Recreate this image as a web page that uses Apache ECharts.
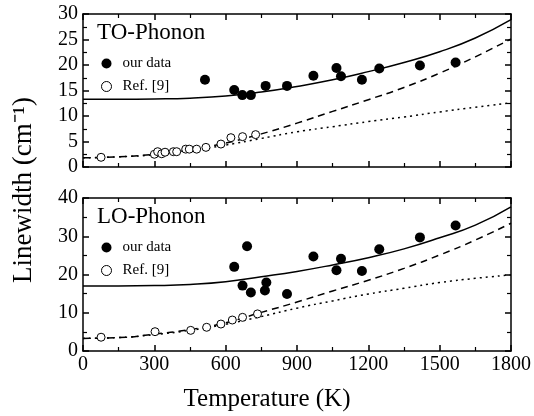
<!DOCTYPE html>
<html>
<head>
<meta charset="utf-8">
<script src="https://cdn.jsdelivr.net/npm/echarts@6/dist/echarts.min.js"></script>
<style>
  html, body { margin: 0; padding: 0; background: #fff; }
  #chart { width: 534px; height: 416px; }
</style>
</head>
<body>
<div id="chart"></div>
<script>
// temperature grid used for the fitted curves (K)
var curveT = [0, 150, 300, 450, 600, 750, 900, 1050, 1200, 1350, 1500, 1650, 1800];

// TO-phonon panel
var toSolid  = [13.3, 13.3, 13.35, 13.5, 13.9, 14.7, 15.8, 17.1, 18.7, 20.5, 22.6, 25.3, 28.9];
var toDash   = [1.8, 2.0, 2.5, 3.4, 4.7, 6.5, 8.6, 10.9, 13.2, 15.6, 18.4, 21.6, 25.1];
var toDot    = [1.8, 2.0, 2.4, 3.2, 4.3, 5.6, 6.9, 7.9, 8.9, 9.8, 10.8, 11.7, 12.6];
var toOurT   = [513, 636, 670, 706, 768, 858, 969, 1066, 1085, 1173, 1246, 1417, 1567];
var toOurW   = [17.1, 15.1, 14.1, 14.1, 15.9, 15.9, 17.9, 19.4, 17.8, 17.1, 19.3, 19.9, 20.5];
var toRefT   = [76, 300, 314, 331, 345, 380, 394, 432, 447, 478, 517, 580, 622, 671, 726];
var toRefW   = [1.9, 2.5, 3.0, 2.6, 2.9, 3.0, 3.0, 3.5, 3.5, 3.5, 3.85, 4.5, 5.75, 5.95, 6.35];

// LO-phonon panel
var loSolid  = [17.0, 17.0, 17.1, 17.4, 18.1, 19.4, 20.8, 22.5, 24.4, 26.7, 29.6, 32.9, 37.7];
var loDash   = [3.3, 3.5, 4.4, 5.6, 7.4, 10.1, 12.8, 15.7, 18.5, 21.6, 25.1, 29.0, 33.4];
var loDot    = [3.3, 3.5, 4.3, 5.4, 7.0, 9.0, 11.2, 13.1, 14.9, 16.4, 17.9, 19.0, 19.9];
var loOurT   = [636, 690, 671, 706, 771, 765, 858, 969, 1066, 1085, 1173, 1246, 1417, 1567];
var loOurW   = [22.0, 27.4, 17.1, 15.3, 17.9, 15.8, 14.9, 24.7, 21.1, 24.1, 20.9, 26.6, 29.7, 32.8];
var loRefT   = [76, 303, 453, 520, 580, 628, 671, 734];
var loRefW   = [3.6, 5.05, 5.4, 6.2, 7.05, 8.1, 8.8, 9.7];

var xTicks = [0, 300, 600, 900, 1200, 1500, 1800];

function pairs(xs, ys) {
    return xs.map(function (x, i) { return [x, ys[i]]; });
}

var font = 'Liberation Serif';
var black = '#000';

function xAxisFor(grid, pos, labels) {
    return {
        type: 'value',
        gridIndex: grid,
        position: pos,
        min: xTicks[0],
        max: xTicks[xTicks.length - 1],
        interval: 300,
        axisLine: { onZero: false, lineStyle: { color: black, width: 1.5 } },
        axisTick: { inside: true, length: 6, lineStyle: { color: black, width: 1.5 } },
        minorTick: { show: true, splitNumber: 2, length: 4, lineStyle: { color: black, width: 1.2 } },
        axisLabel: {
            show: labels, color: black, fontFamily: font, fontSize: 20, margin: 4,
            formatter: function (v) { return String(v); }
        },
        splitLine: { show: false }
    };
}

function yAxisFor(grid, pos, max, step, labels) {
    return {
        type: 'value',
        gridIndex: grid,
        position: pos,
        min: 0,
        max: max,
        interval: step,
        axisLine: { show: true, onZero: false, lineStyle: { color: black, width: 1.5 } },
        axisTick: { show: true, inside: true, length: 6, lineStyle: { color: black, width: 1.5 } },
        minorTick: { show: true, splitNumber: 2, length: 4, lineStyle: { color: black, width: 1.2 } },
        axisLabel: { show: labels, color: black, fontFamily: font, fontSize: 20, margin: 5 },
        splitLine: { show: false }
    };
}

function curve(name, grid, ys, dash) {
    return {
        name: name,
        type: 'line',
        xAxisIndex: grid,
        yAxisIndex: grid,
        data: pairs(curveT, ys),
        smooth: true,
        showSymbol: false,
        silent: true,
        lineStyle: { color: black, width: 1.5, type: dash }
    };
}

function points(name, grid, xs, ys, open) {
    return {
        name: name,
        type: 'scatter',
        xAxisIndex: grid,
        yAxisIndex: grid,
        data: pairs(xs, ys),
        symbolSize: open ? 8 : 10,
        z: 5,
        itemStyle: open
            ? { color: '#fff', borderColor: black, borderWidth: 1, opacity: 1 }
            : { color: black, opacity: 1 }
    };
}

function legendAt(top) {
    return {
        orient: 'vertical',
        left: 101,
        top: top,
        padding: 0,
        itemWidth: 10,
        itemHeight: 10,
        itemGap: 8,
        selectedMode: false,
        data: [
            { name: 'our data', icon: 'circle' },
            { name: 'Ref. [9]', icon: 'path://M5,1.2A3.8,3.8 0 1,1 4.99,1.2Z',
              itemStyle: { color: '#fff', borderColor: black, borderWidth: 1 } }
        ],
        textStyle: { color: black, fontFamily: font, fontSize: 15, padding: [0, 0, 0, 6] }
    };
}

var chart = echarts.init(document.getElementById('chart'));
chart.setOption({
    backgroundColor: '#fff',
    animation: false,
    textStyle: { fontFamily: font },
    title: [
        { text: 'TO-Phonon', left: 97, top: 21, padding: 0,
          textStyle: { color: black, fontFamily: font, fontSize: 23, fontWeight: 'normal' } },
        { text: 'LO-Phonon', left: 97, top: 205, padding: 0,
          textStyle: { color: black, fontFamily: font, fontSize: 23, fontWeight: 'normal' } }
    ],
    legend: [legendAt(56), legendAt(240)],
    grid: [
        { left: 83, top: 14, width: 428, height: 153 },
        { left: 83, top: 198, width: 428, height: 153 }
    ],
    xAxis: [
        xAxisFor(0, 'bottom', false),
        xAxisFor(1, 'bottom', true),
        xAxisFor(0, 'top', false),
        xAxisFor(1, 'top', false)
    ],
    yAxis: [
        yAxisFor(0, 'left', 30, 5, true),
        yAxisFor(1, 'left', 40, 10, true),
        yAxisFor(0, 'right', 30, 5, false),
        yAxisFor(1, 'right', 40, 10, false)
    ],
    graphic: [
        { type: 'text', left: 'center', top: 387,
          style: { text: 'Temperature (K)', fill: black, font: '25px "Liberation Serif"' } },
        { type: 'text', x: 10, y: 190, rotation: Math.PI / 2,
          style: { text: 'Linewidth (cm\u207B\u00B9)', fill: black, font: '27px "Liberation Serif"',
                   align: 'center', verticalAlign: 'top' } }
    ],
    series: [
        curve('to-fit', 0, toSolid, 'solid'),
        curve('to-dash', 0, toDash, [7, 5]),
        curve('to-dot', 0, toDot, [2, 4]),
        points('our data', 0, toOurT, toOurW, false),
        points('Ref. [9]', 0, toRefT, toRefW, true),
        curve('lo-fit', 1, loSolid, 'solid'),
        curve('lo-dash', 1, loDash, [7, 5]),
        curve('lo-dot', 1, loDot, [2, 4]),
        points('our data', 1, loOurT, loOurW, false),
        points('Ref. [9]', 1, loRefT, loRefW, true)
    ]
});

window.addEventListener('resize', function () {
    chart.resize();
});
</script>
</body>
</html>
